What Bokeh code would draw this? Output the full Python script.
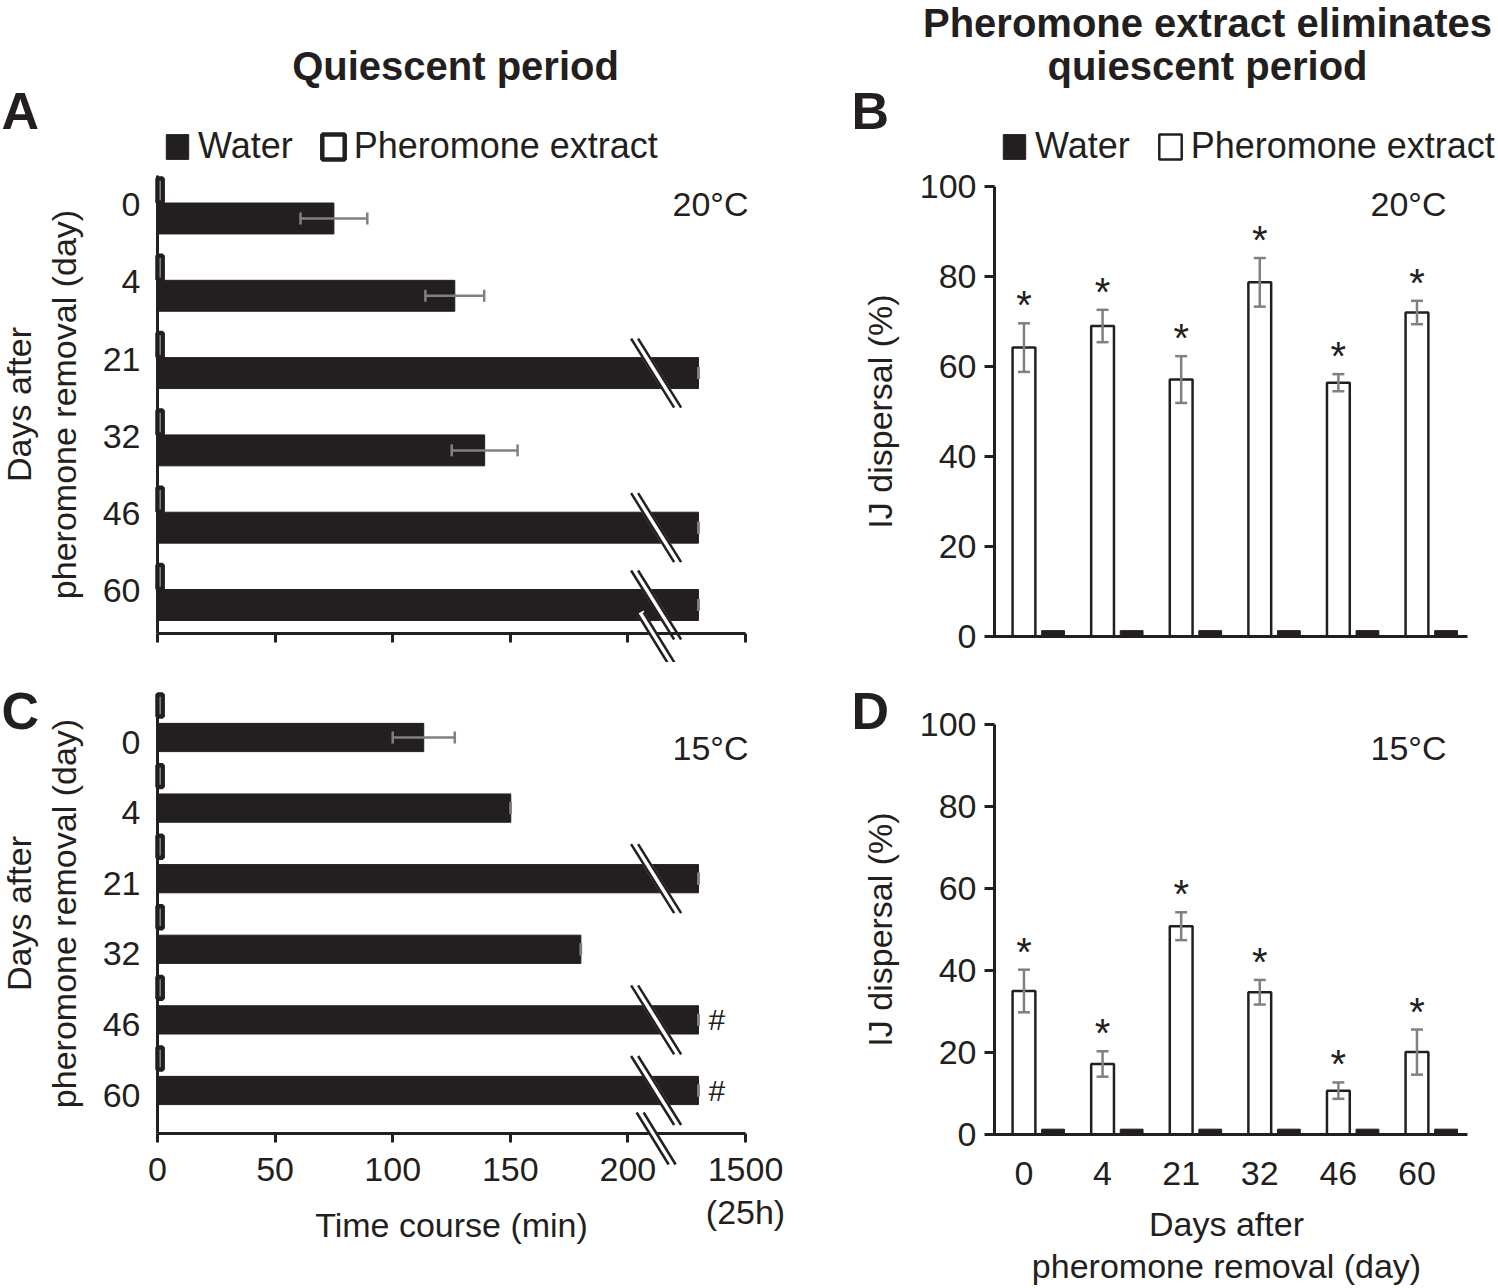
from bokeh.plotting import figure
from bokeh.models import Range1d, FixedTicker, Legend, LegendItem, Arrow
from bokeh.layouts import row, column
from bokeh.embed import file_html
from bokeh.resources import INLINE
from bokeh.core.properties import value

FONT = "Liberation Sans"
INK = "#231f20"
GREY = "#808080"

# ---------------- data ----------------
days = ["0", "4", "21", "32", "46", "60"]

# broken time axis: 0-200 min linear, then a break; 250 on the axis = 1500 min (25 h)
time_ticks = [0, 50, 100, 150, 200, 250]
time_tick_labels = ["0", "50", "100", "150", "200", "1500"]
axis_break_at = 212

# quiescent period (min); 230 = bar running past the break
water_q20 = [75.0, 126.4, 230.0, 139.1, 230.0, 230.0]
water_q20_err = [14.2, 12.5, 0.0, 14.0, 0.0, 0.0]
phero_q20 = [2.2, 2.2, 2.2, 2.2, 2.2, 2.2]
broken_q20 = [False, False, True, False, True, True]

water_q15 = [113.2, 150.2, 230.0, 180.0, 230.0, 230.0]
water_q15_err = [13.2, 0.0, 0.0, 0.0, 0.0, 0.0]
phero_q15 = [2.2, 2.2, 2.2, 2.2, 2.2, 2.2]
broken_q15 = [False, False, True, False, True, True]
hash_q15 = ["", "", "", "", "#", "#"]

# IJ dispersal (%)
phero_d20 = [64.2, 69.0, 57.1, 78.7, 56.4, 72.0]
phero_d20_err = [5.4, 3.6, 5.2, 5.4, 1.9, 2.6]
water_d20 = [1.3, 1.3, 1.3, 1.3, 1.3, 1.3]
star_d20 = ["*", "*", "*", "*", "*", "*"]

phero_d15 = [35.0, 17.2, 50.8, 34.7, 10.7, 20.1]
phero_d15_err = [5.2, 3.1, 3.4, 3.0, 2.0, 5.5]
water_d15 = [1.3, 1.3, 1.3, 1.3, 1.3, 1.3]
star_d15 = ["*", "*", "*", "*", "*", "*"]

N = len(days)

# ---------------- page geometry (px) ----------------
LEFT_W, RIGHT_W = 788, 708
TOP_H, BOT_H = 662, 624
T_X0, T_PX = 157.0, 588.0 / 250.0          # time axis: value 0 at x=157, 2.352 px per unit
G_X0, G_PX = 994.0, 78.6                    # dispersal panels: group axis


def base_style(p):
    p.xgrid.visible = False
    p.ygrid.visible = False
    p.outline_line_color = None
    p.background_fill_color = "white"
    p.border_fill_color = "white"
    for ax in (p.xaxis[0], p.yaxis[0]):
        ax.axis_line_color = INK
        ax.axis_line_width = 3
        ax.major_tick_line_color = INK
        ax.major_tick_line_width = 3
        ax.minor_tick_line_color = None
        ax.major_label_text_font = FONT
        ax.major_label_text_font_size = "34px"
        ax.major_label_text_color = INK
        ax.axis_label_text_font = FONT
        ax.axis_label_text_font_size = "34px"
        ax.axis_label_text_font_style = "normal"
        ax.axis_label_text_color = INK


def put_text(p, x, y, text, size=34, bold=False, align="center"):
    # y is the wanted baseline; shift up to compensate the rendered baseline position
    p.text(x=[x], y=[y], text=[text], text_font=value(FONT), text_font_size=f"{size}px",
           text_font_style="bold" if bold else "normal", text_color=INK,
           text_align=align, text_baseline="alphabetic", y_offset=-round(0.38 * size))


def legend(r_w, r_p, loc):
    return Legend(items=[LegendItem(label="Water", renderers=[r_w]),
                         LegendItem(label="Pheromone extract", renderers=[r_p])],
                  location=loc, orientation="horizontal", padding=0, margin=0, spacing=26,
                  label_standoff=7, glyph_width=28, glyph_height=31, label_height=31,
                  label_text_font=FONT, label_text_font_size="36px", label_text_color=INK,
                  border_line_color=None, background_fill_alpha=0)


def time_panel(height, page_top, frame_top, px_row, span, water, err, phero, broken,
               ph_off, w_off, lab_off, ph_h, w_h, show_labels):
    # frame covers the whole canvas; data units are laid out linearly in page pixels
    x_lo = (0 - T_X0) / T_PX
    x_hi = (LEFT_W - T_X0) / T_PX
    r_top = (page_top - frame_top) / px_row
    r_bot = (page_top + height - frame_top) / px_row
    p = figure(width=LEFT_W, height=height, x_range=Range1d(x_lo, x_hi), y_range=Range1d(r_bot, r_top),
               output_backend="svg", toolbar_location=None, min_border=0)
    base_style(p)
    wy = [i + w_off for i in range(N)]
    py = [i + ph_off for i in range(N)]
    r_w = p.hbar(y=wy, left=0, right=water, height=w_h, fill_color=INK, line_color=INK, line_width=1)
    r_p = p.hbar(y=py, left=0, right=phero, height=ph_h, fill_color="white", line_color=INK, line_width=4.5)

    lo = [w - e for w, e in zip(water, err)]
    hi = [w + e for w, e in zip(water, err)]
    cap = 6.0 / px_row
    p.segment(x0=lo, y0=wy, x1=hi, y1=wy, line_color=GREY, line_width=2.5)
    p.segment(x0=lo, y0=[y - cap for y in wy], x1=lo, y1=[y + cap for y in wy], line_color=GREY, line_width=2.5)
    p.segment(x0=hi, y0=[y - cap for y in wy], x1=hi, y1=[y + cap for y in wy], line_color=GREY, line_width=2.5)

    # break marks across the long bars
    dx = 21.5 / T_PX
    dy = 34.5 / px_row
    off = 3.5 / T_PX
    by = [y for y, b in zip(wy, broken) if b]
    bx = axis_break_at
    p.segment(x0=[bx - dx] * len(by), y0=[y - dy for y in by], x1=[bx + dx] * len(by), y1=[y + dy for y in by],
              line_color="white", line_width=8)
    for s in (-off, off):
        p.segment(x0=[bx - dx + s] * len(by), y0=[y - dy for y in by],
                  x1=[bx + dx + s] * len(by), y1=[y + dy for y in by],
                  line_color=INK, line_width=2.5)

    # break mark on the time axis (annotation level, drawn over the axis line)
    ay = span + 5.0 / px_row
    adx = 16.0 / T_PX
    ady = 26.0 / px_row
    p.add_layout(Arrow(x_start=bx - adx, y_start=ay - ady, x_end=bx + adx, y_end=ay + ady,
                       start=None, end=None, line_color="white", line_width=8))
    for s in (-off, off):
        p.add_layout(Arrow(x_start=bx - adx + s, y_start=ay - ady, x_end=bx + adx + s, y_end=ay + ady,
                           start=None, end=None, line_color=INK, line_width=2.5))

    # axes drawn at fixed locations inside the canvas
    p.xaxis.fixed_location = span
    p.xaxis.bounds = (0, 250)
    p.xaxis.ticker = FixedTicker(ticks=time_ticks)
    if show_labels:
        p.xaxis.major_label_overrides = {t: l for t, l in zip(time_ticks, time_tick_labels)}
        p.xaxis.axis_label = "Time course (min)"
        p.xaxis.major_label_standoff = 16
        p.xaxis.axis_label_standoff = 21
    else:
        p.xaxis.major_label_overrides = {t: "" for t in time_ticks}
    p.xaxis.major_tick_out = 9
    p.xaxis.major_tick_in = 0

    p.yaxis.fixed_location = 0
    p.yaxis.bounds = (0, span)
    p.yaxis.ticker = FixedTicker(ticks=[i + lab_off for i in range(N)])
    p.yaxis.major_label_overrides = {i + lab_off: d for i, d in enumerate(days)}
    p.yaxis.major_tick_out = 0
    p.yaxis.major_tick_in = 0
    p.yaxis.major_label_standoff = 17
    p.yaxis.axis_label = "Days after\npheromone removal (day)"
    p.yaxis.axis_label_standoff = 17
    p.yaxis.axis_label_text_line_height = 1.18
    return p, r_w, r_p, wy


def dispersal_panel(height, page_top, zero_y, px_val, phero, err, water, stars, show_labels):
    x_lo = (LEFT_W - G_X0) / G_PX
    x_hi = (LEFT_W + RIGHT_W - G_X0) / G_PX
    v_top = (zero_y - page_top) / px_val
    v_bot = (zero_y - page_top - height) / px_val
    p = figure(width=RIGHT_W, height=height, x_range=Range1d(x_lo, x_hi), y_range=Range1d(v_bot, v_top),
               output_backend="svg", toolbar_location=None, min_border=0)
    base_style(p)
    pxs = [i + 0.375 for i in range(N)]
    wxs = [i + 0.745 for i in range(N)]
    r_p = p.vbar(x=pxs, bottom=0, top=phero, width=0.29, fill_color="white", line_color=INK, line_width=2.5)
    r_w = p.vbar(x=wxs, bottom=0, top=water, width=0.29, fill_color=INK, line_color=INK, line_width=1)
    lo = [v - e for v, e in zip(phero, err)]
    hi = [v + e for v, e in zip(phero, err)]
    cap = 6.0 / G_PX
    p.segment(x0=pxs, y0=lo, x1=pxs, y1=hi, line_color=GREY, line_width=2.5)
    p.segment(x0=[x - cap for x in pxs], y0=lo, x1=[x + cap for x in pxs], y1=lo, line_color=GREY, line_width=2.5)
    p.segment(x0=[x - cap for x in pxs], y0=hi, x1=[x + cap for x in pxs], y1=hi, line_color=GREY, line_width=2.5)
    p.text(x=pxs, y=hi, text=stars, text_font=value(FONT), text_font_size="40px", text_color=INK,
           text_align="center", text_baseline="alphabetic", y_offset=-18)

    p.yaxis.fixed_location = 0
    p.yaxis.bounds = (0, 100)
    p.yaxis.ticker = FixedTicker(ticks=[0, 20, 40, 60, 80, 100])
    p.yaxis.major_tick_out = 10
    p.yaxis.major_tick_in = 0
    p.yaxis.major_label_standoff = 8
    p.yaxis.axis_label = "IJ dispersal (%)"
    p.yaxis.axis_label_standoff = 18

    p.xaxis.fixed_location = 0
    p.xaxis.bounds = ((985 - G_X0) / G_PX, (1467 - G_X0) / G_PX)
    p.xaxis.major_tick_out = 0
    p.xaxis.major_tick_in = 0
    if show_labels:
        p.xaxis.ticker = FixedTicker(ticks=pxs)
        p.xaxis.major_label_overrides = {x: d for x, d in zip(pxs, days)}
        p.xaxis.major_label_standoff = 27
        p.xaxis.axis_label = "Days after\npheromone removal (day)"
        p.xaxis.axis_label_standoff = 17
        p.xaxis.axis_label_text_line_height = 1.12
    else:
        p.xaxis.ticker = FixedTicker(ticks=[])
    return p, r_w, r_p


# ---- A ----
pA, rwA, rpA, wyA = time_panel(TOP_H, 0, 175, 77.3, 5.925, water_q20, water_q20_err, phero_q20, broken_q20,
                               0.194, 0.556, 0.375, 0.31, 0.40, False)
pA.add_layout(legend(rwA, rpA, (163, TOP_H - 167)))
ax = lambda px: (px - T_X0) / T_PX
ayA = lambda py: (py - 175) / 77.3
put_text(pA, ax(1), ayA(130), "A", size=52, bold=True, align="left")
put_text(pA, ax(455), ayA(80), "Quiescent period", size=40, bold=True)
put_text(pA, ax(710), ayA(216), "20°C")

# ---- C ----
pC, rwC, rpC, wyC = time_panel(BOT_H, TOP_H, 693, 70.6, 6.232, water_q15, water_q15_err, phero_q15, broken_q15,
                               0.17, 0.623, 0.6875, 0.31, 0.40, True)
pC.text(x=[ax(708)] * N, y=wyC, text=hash_q15, text_font=value(FONT), text_font_size="30px", text_color=INK,
        text_align="left", text_baseline="middle")
ayC = lambda py: (py - 693) / 70.6
put_text(pC, ax(1), ayC(730), "C", size=52, bold=True, align="left")
put_text(pC, ax(710), ayC(760), "15°C")
put_text(pC, 250, ayC(1224), "(25h)")

# ---- B ----
pB, rwB, rpB = dispersal_panel(TOP_H, 0, 636, 4.5, phero_d20, phero_d20_err, water_d20, star_d20, False)
pB.add_layout(legend(rwB, rpB, (1000 - LEFT_W, TOP_H - 167)))
gx = lambda px: (px - G_X0) / G_PX
ayB = lambda py: (636 - py) / 4.5
put_text(pB, gx(851), ayB(130), "B", size=52, bold=True, align="left")
put_text(pB, gx(1207), ayB(37), "Pheromone extract eliminates", size=40, bold=True)
put_text(pB, gx(1207), ayB(80), "quiescent period", size=40, bold=True)
put_text(pB, gx(1408), ayB(216), "20°C")

# ---- D ----
pD, rwD, rpD = dispersal_panel(BOT_H, TOP_H, 1134, 4.1, phero_d15, phero_d15_err, water_d15, star_d15, True)
ayD = lambda py: (1134 - py) / 4.1
put_text(pD, gx(851), ayD(730), "D", size=52, bold=True, align="left")
put_text(pD, gx(1408), ayD(760), "15°C")

layout = row(column(pA, pC), column(pB, pD))
open("out.html", "w").write(file_html(layout, INLINE))
